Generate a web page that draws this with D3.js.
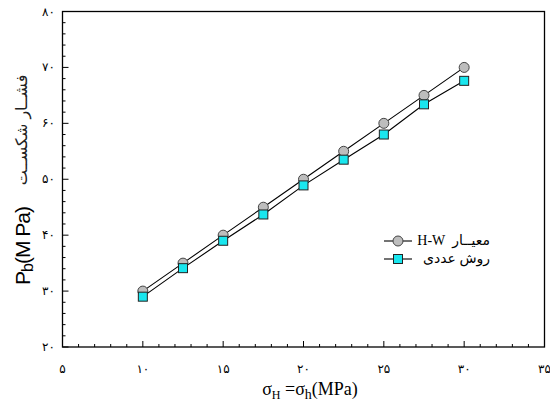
<!DOCTYPE html>
<html><head><meta charset="utf-8">
<script src="https://cdn.jsdelivr.net/npm/d3@7"></script>
<style>body{margin:0;background:#fff}svg{display:block}</style>
</head><body>
<script>
const xValues = [10, 12.5, 15, 17.5, 20, 22.5, 25, 27.5, 30];
const hwValues = [30, 35, 40, 45, 50, 55, 60, 65, 70];
const numericValues = [29, 34.1, 39, 43.7, 48.9, 53.5, 58, 63.4, 67.6];
const xTicks = [5, 10, 15, 20, 25, 30, 35];
const yTicks = [20, 30, 40, 50, 60, 70, 80];
const seriesNames = ["معیــار  H-W", "روش عددی"];
const yTitleFa = "فشــار شکســت";

const fa = n => String(n).replace(/\d/g, d => "۰۱۲۳۴۵۶۷۸۹"[d]);

const W = 550, H = 405;
const m = {l: 62.5, r: 5.5, t: 11.5, b: 58};
const svg = d3.select("body").append("svg").attr("width", W).attr("height", H);
const x = d3.scaleLinear().domain([5, 35]).range([m.l, W - m.r]);
const y = d3.scaleLinear().domain([20, 80]).range([H - m.b, m.t]);

// frame
svg.append("rect").attr("x", x(5)).attr("y", y(80)).attr("width", x(35) - x(5)).attr("height", y(20) - y(80))
  .attr("fill", "none").attr("stroke", "#000").attr("stroke-width", 1.3);

// x ticks
const xAxis = svg.append("g").attr("transform", `translate(0,${y(20)})`);
xAxis.selectAll("line").data(d3.range(5, 36, 1)).join("line")
  .attr("x1", d => x(d)).attr("x2", d => x(d))
  .attr("y1", 0).attr("y2", d => d % 5 === 0 ? -6 : -3)
  .attr("stroke", "#000").attr("stroke-width", 1);
xAxis.selectAll("text").data(xTicks).join("text")
  .attr("x", d => x(d)).attr("y", 26).attr("text-anchor", "middle")
  .attr("font-family", "DejaVu Sans, sans-serif").attr("font-size", 12).text(d => fa(d));

// y ticks
const yAxis = svg.append("g").attr("transform", `translate(${x(5)},0)`);
yAxis.selectAll("line").data(d3.range(20, 81, 2)).join("line")
  .attr("y1", d => y(d)).attr("y2", d => y(d))
  .attr("x1", 0).attr("x2", d => d % 10 === 0 ? 6 : 3)
  .attr("stroke", "#000").attr("stroke-width", 1);
yAxis.selectAll("text").data(yTicks).join("text")
  .attr("x", -14).attr("y", d => y(d) + 4).attr("text-anchor", "middle")
  .attr("font-family", "DejaVu Sans, sans-serif").attr("font-size", 12).text(d => fa(d));

// x title
const xt = svg.append("text").attr("x", 310).attr("y", 395).attr("text-anchor", "middle")
  .attr("font-family", "Liberation Serif, Times New Roman, serif").attr("font-size", 18);
xt.append("tspan").text("σ");
xt.append("tspan").attr("font-size", 12).attr("dy", 4).text("H");
xt.append("tspan").attr("dy", -4).text(" =σ");
xt.append("tspan").attr("font-size", 14).attr("dy", 4).text("h");
xt.append("tspan").attr("dy", -4).text("(MPa)");

// y title
const yt = svg.append("g").attr("transform", "translate(30,195) rotate(-90)");
const ytt = yt.append("text").attr("x", -51).attr("y", 0).attr("text-anchor", "middle")
  .attr("font-family", "Liberation Sans, Arial, sans-serif").attr("font-size", 21).attr("letter-spacing", -1);
ytt.append("tspan").text("P");
ytt.append("tspan").attr("font-size", 16).attr("dy", 3).text("b");
ytt.append("tspan").attr("dy", -3).text("(M Pa)");
yt.append("text").attr("x", 65).attr("y", -3).attr("text-anchor", "middle")
  .attr("font-family", "DejaVu Sans, sans-serif").attr("font-size", 16).attr("fill", "#222")
  .attr("direction", "rtl").text(yTitleFa);

const line = d3.line().x((d, i) => x(xValues[i])).y(d => y(d));
const ssize = 9;

// series lines
svg.append("path").datum(hwValues).attr("d", line).attr("fill", "none").attr("stroke", "#000").attr("stroke-width", 1.1);
svg.append("path").datum(numericValues).attr("d", line).attr("fill", "none").attr("stroke", "#000").attr("stroke-width", 1.1);
svg.selectAll("circle.hw").data(hwValues).join("circle").attr("class", "hw")
  .attr("cx", (d, i) => x(xValues[i])).attr("cy", d => y(d)).attr("r", 5)
  .attr("fill", "#bdbdbd").attr("stroke", "#444").attr("stroke-width", 1);
svg.selectAll("rect.num").data(numericValues).join("rect").attr("class", "num")
  .attr("x", (d, i) => x(xValues[i]) - ssize / 2).attr("y", d => y(d) - ssize / 2)
  .attr("width", ssize).attr("height", ssize)
  .attr("fill", "#19e6ee").attr("stroke", "#222").attr("stroke-width", 1);

// legend
const lg = svg.append("g");
const rows = [241, 259];
rows.forEach((ry, i) => {
  lg.append("line").attr("x1", 384).attr("x2", 412).attr("y1", ry).attr("y2", ry).attr("stroke", "#000").attr("stroke-width", 1.1);
  if (i === 0) {
    lg.append("circle").attr("cx", 398).attr("cy", ry).attr("r", 5).attr("fill", "#bdbdbd").attr("stroke", "#444");
  } else {
    lg.append("rect").attr("x", 398 - ssize / 2).attr("y", ry - ssize / 2).attr("width", ssize).attr("height", ssize)
      .attr("fill", "#19e6ee").attr("stroke", "#222");
  }
  lg.append("text").attr("x", 490).attr("y", ry + 4).attr("direction", "rtl").attr("text-anchor", "start")
    .attr("xml:space", "preserve").style("white-space", "pre")
    .attr("font-family", "Liberation Serif, DejaVu Sans, serif").attr("font-size", 14).text(seriesNames[i]);
});
</script>
</body></html>
